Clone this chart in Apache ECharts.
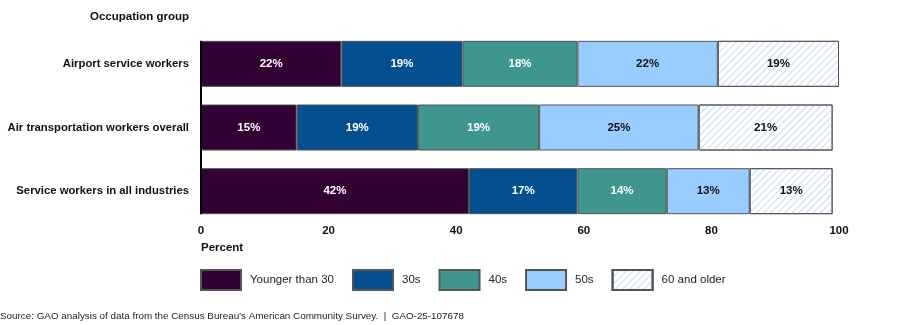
<!DOCTYPE html>
<html><head><meta charset="utf-8">
<script src="https://cdn.jsdelivr.net/npm/echarts@6/dist/echarts.min.js"></script>
<style>html,body{margin:0;padding:0;background:#fff}#c{width:900px;height:325px}</style>
</head><body><div id="c"></div>
<script>
const categories = ['Airport service workers', 'Air transportation workers overall', 'Service workers in all industries'];
const seriesNames = ['Younger than 30', '30s', '40s', '50s', '60 and older'];
const younger30 = [22, 15, 42];
const thirties = [19, 19, 17];
const forties = [18, 19, 14];
const fifties = [22, 25, 13];
const sixtyPlus = [19, 21, 13];
const xTicks = [0, 20, 40, 60, 80, 100];

const FONT = '"Liberation Sans", Arial, sans-serif';
const values = [younger30, thirties, forties, fifties, sixtyPlus];
const colors = ['#330033', '#034f8f', '#3f968c', '#99ccff', '#ffffff'];
const labelColors = ['#fff', '#fff', '#fff', '#111', '#111'];
const BAR_W = 46;

const chart = echarts.init(document.getElementById('c'), null, {renderer: 'canvas'});
chart.setOption({
  animation: false,
  textStyle: {fontFamily: FONT},
  grid: {left: 201, right: 61, top: 32, height: 191},
  xAxis: {
    type: 'value', min: 0, max: 100, interval: 20,
    axisLine: {show: false}, axisTick: {show: false}, splitLine: {show: false},
    axisLabel: {color: '#111', fontWeight: 'bold', fontSize: 11.5, fontFamily: FONT, margin: 2,
      formatter: v => xTicks.includes(v) ? String(v) : ''}
  },
  yAxis: {
    type: 'category', data: categories, inverse: true,
    axisLine: {show: false},
    axisTick: {show: false},
    axisLabel: {color: '#111', fontWeight: 'bold', fontSize: 11.3, fontFamily: FONT, margin: 12}
  },
  legend: {
    left: 195, top: 264, itemWidth: 40, itemHeight: 20, itemGap: 18,
    icon: 'rect',
    textStyle: {color: '#222', fontSize: 11.5, fontFamily: FONT, padding: [0, 0, 0, 4]},
    data: seriesNames
  },
  series: seriesNames.map((name, i) => ({
    name, type: 'bar', stack: 'total', barWidth: BAR_W,
    data: values[i],
    itemStyle: Object.assign({color: colors[i], borderColor: '#555', borderWidth: 1},
      i === 4 ? {decal: {symbol: 'rect', color: '#c4dcf5', dashArrayX: [1, 0], dashArrayY: [1, 4], rotation: -Math.PI / 4}} : {}),
    label: {show: true, position: 'inside', formatter: '{c}%', color: labelColors[i],
      fontWeight: 'bold', fontSize: 11.5, fontFamily: FONT}
  }))
});

// axis baseline at x = 0 spanning the bars, positioned via the chart's scales
const pTop = chart.convertToPixel({gridIndex: 0}, [0, 0]);
const pBot = chart.convertToPixel({gridIndex: 0}, [0, categories.length - 1]);
chart.setOption({
  graphic: [
    {type: 'line', shape: {x1: pTop[0], y1: pTop[1] - BAR_W / 2, x2: pBot[0], y2: pBot[1] + BAR_W / 2},
      style: {stroke: '#000', lineWidth: 2}, z: 10},
    {type: 'text', x: 189, y: 11,
      style: {text: 'Occupation group', textAlign: 'right', fill: '#111', font: 'bold 11.5px ' + FONT}},
    {type: 'text', x: 201, y: 242,
      style: {text: 'Percent', textAlign: 'left', fill: '#111', font: 'bold 11.5px ' + FONT}},
    {type: 'text', x: 0, y: 311,
      style: {text: 'Source: GAO analysis of data from the Census Bureau\u2019s American Community Survey.  |  GAO-25-107678', fill: '#222', font: '9.85px ' + FONT}}
  ]
});
</script></body></html>
